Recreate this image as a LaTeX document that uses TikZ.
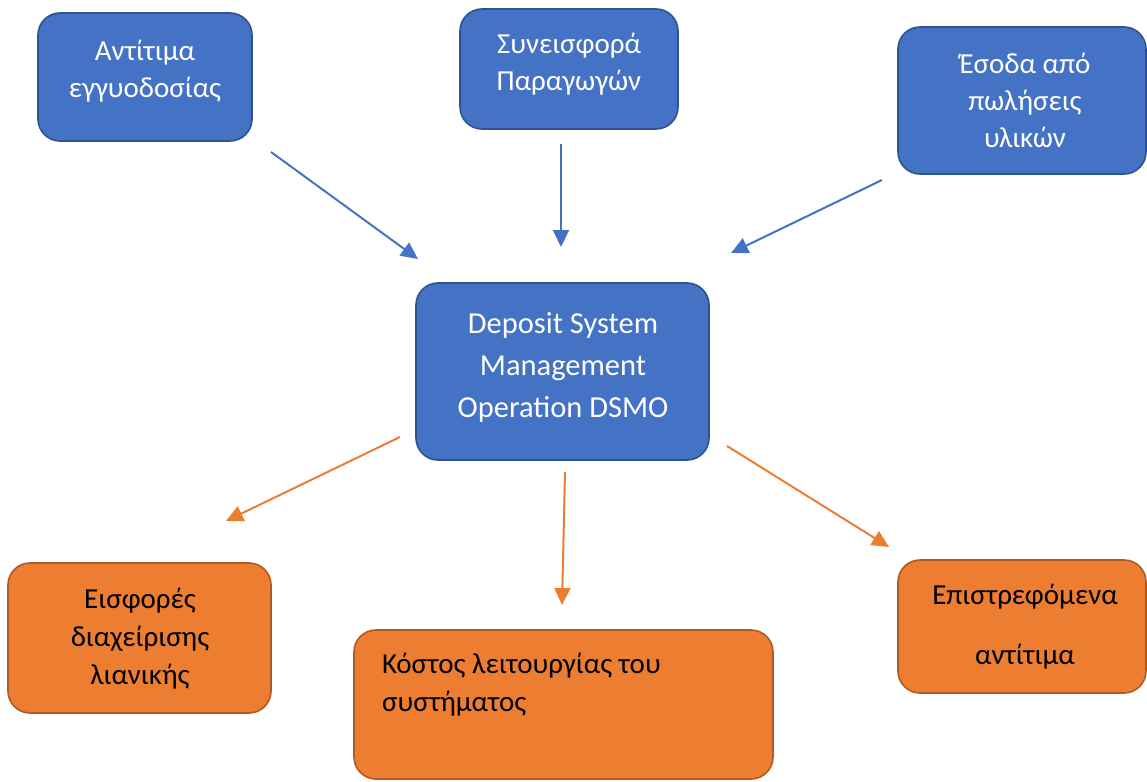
\documentclass[tikz,border=0pt]{standalone}
\usepackage{fontspec}
\setmainfont{Carlito}
\usetikzlibrary{arrows.meta}
\definecolor{bfill}{HTML}{4472C4}
\definecolor{bdraw}{HTML}{2F528F}
\definecolor{ofill}{HTML}{ED7D31}
\definecolor{odraw}{HTML}{AE5A21}
\tikzset{
  box/.style={rectangle, rounded corners=22pt, line width=1.6pt, inner sep=0pt},
  bluebox/.style={box, fill=bfill, draw=bdraw},
  orangebox/.style={box, fill=ofill, draw=odraw},
  txt/.style={inner sep=0pt, align=center},
  bluetxt/.style={txt, text=white, font=\fontsize{29}{37}\selectfont},
  orangetxt/.style={txt, text=black, font=\fontsize{29}{38}\selectfont},
  barrow/.style={draw=bfill, line width=2pt, -{Triangle[length=17pt,width=16pt]}},
  oarrow/.style={draw=ofill, line width=2pt, -{Triangle[length=17pt,width=16pt]}},
}
\begin{document}
\begin{tikzpicture}[x=1pt,y=-1pt]
\useasboundingbox (0,0) rectangle (1147,781);
% top boxes
\node[bluebox, minimum width=214pt, minimum height=128pt] (b1) at (145,77) {};
\node[bluetxt] (t1) at (145,71) {Αντίτιμα\\εγγυοδοσίας};
\node[bluebox, minimum width=218pt, minimum height=120pt] (b2) at (569,69) {};
\node[bluetxt] (t2) at (569,64) {Συνεισφορά\\Παραγωγών};
\node[bluebox, minimum width=248pt, minimum height=147pt] (b3) at (1022,100.5) {};
\node[bluetxt] (t3) at (1025,100) {Έσοδα από\\πωλήσεις\\υλικών};
% main
\node[bluebox, minimum width=293pt, minimum height=177pt] (m) at (562.5,371.5) {};
\node[txt, text=white, font=\fontsize{30.5}{42}\selectfont] (mt) at (563,367) {Deposit System\\Management\\Operation DSMO};
% bottom boxes
\node[orangebox, minimum width=263pt, minimum height=150pt] (o1) at (139.5,638) {};
\node[orangetxt] (ot1) at (140,639) {Εισφορές\\διαχείρισης\\λιανικής};
\node[orangebox, minimum width=419pt, minimum height=149pt] (o2) at (563.5,704.5) {};
\node[orangetxt, align=left, anchor=north west] (ot2) at (382,653) {Κόστος λειτουργίας του\\συστήματος};
\node[orangebox, minimum width=248pt, minimum height=133pt] (o3) at (1022,626.5) {};
\node[txt, text=black, font=\fontsize{29}{60}\selectfont] (ot3) at (1025,627) {Επιστρεφόμενα\\αντίτιμα};
% arrows
\coordinate (a1s) at (271,152); \coordinate (a1e) at (418,259);
\coordinate (a2s) at (561,144); \coordinate (a2e) at (561,247);
\coordinate (a3s) at (882,180); \coordinate (a3e) at (731,253);
\coordinate (a4s) at (400,437); \coordinate (a4e) at (226,521);
\coordinate (a5s) at (565,472); \coordinate (a5e) at (562,605);
\coordinate (a6s) at (727,446); \coordinate (a6e) at (889,547);
\draw[barrow] (a1s) -- (a1e);
\draw[barrow] (a2s) -- (a2e);
\draw[barrow] (a3s) -- (a3e);
\draw[oarrow] (a4s) -- (a4e);
\draw[oarrow] (a5s) -- (a5e);
\draw[oarrow] (a6s) -- (a6e);
\end{tikzpicture}
\end{document}
